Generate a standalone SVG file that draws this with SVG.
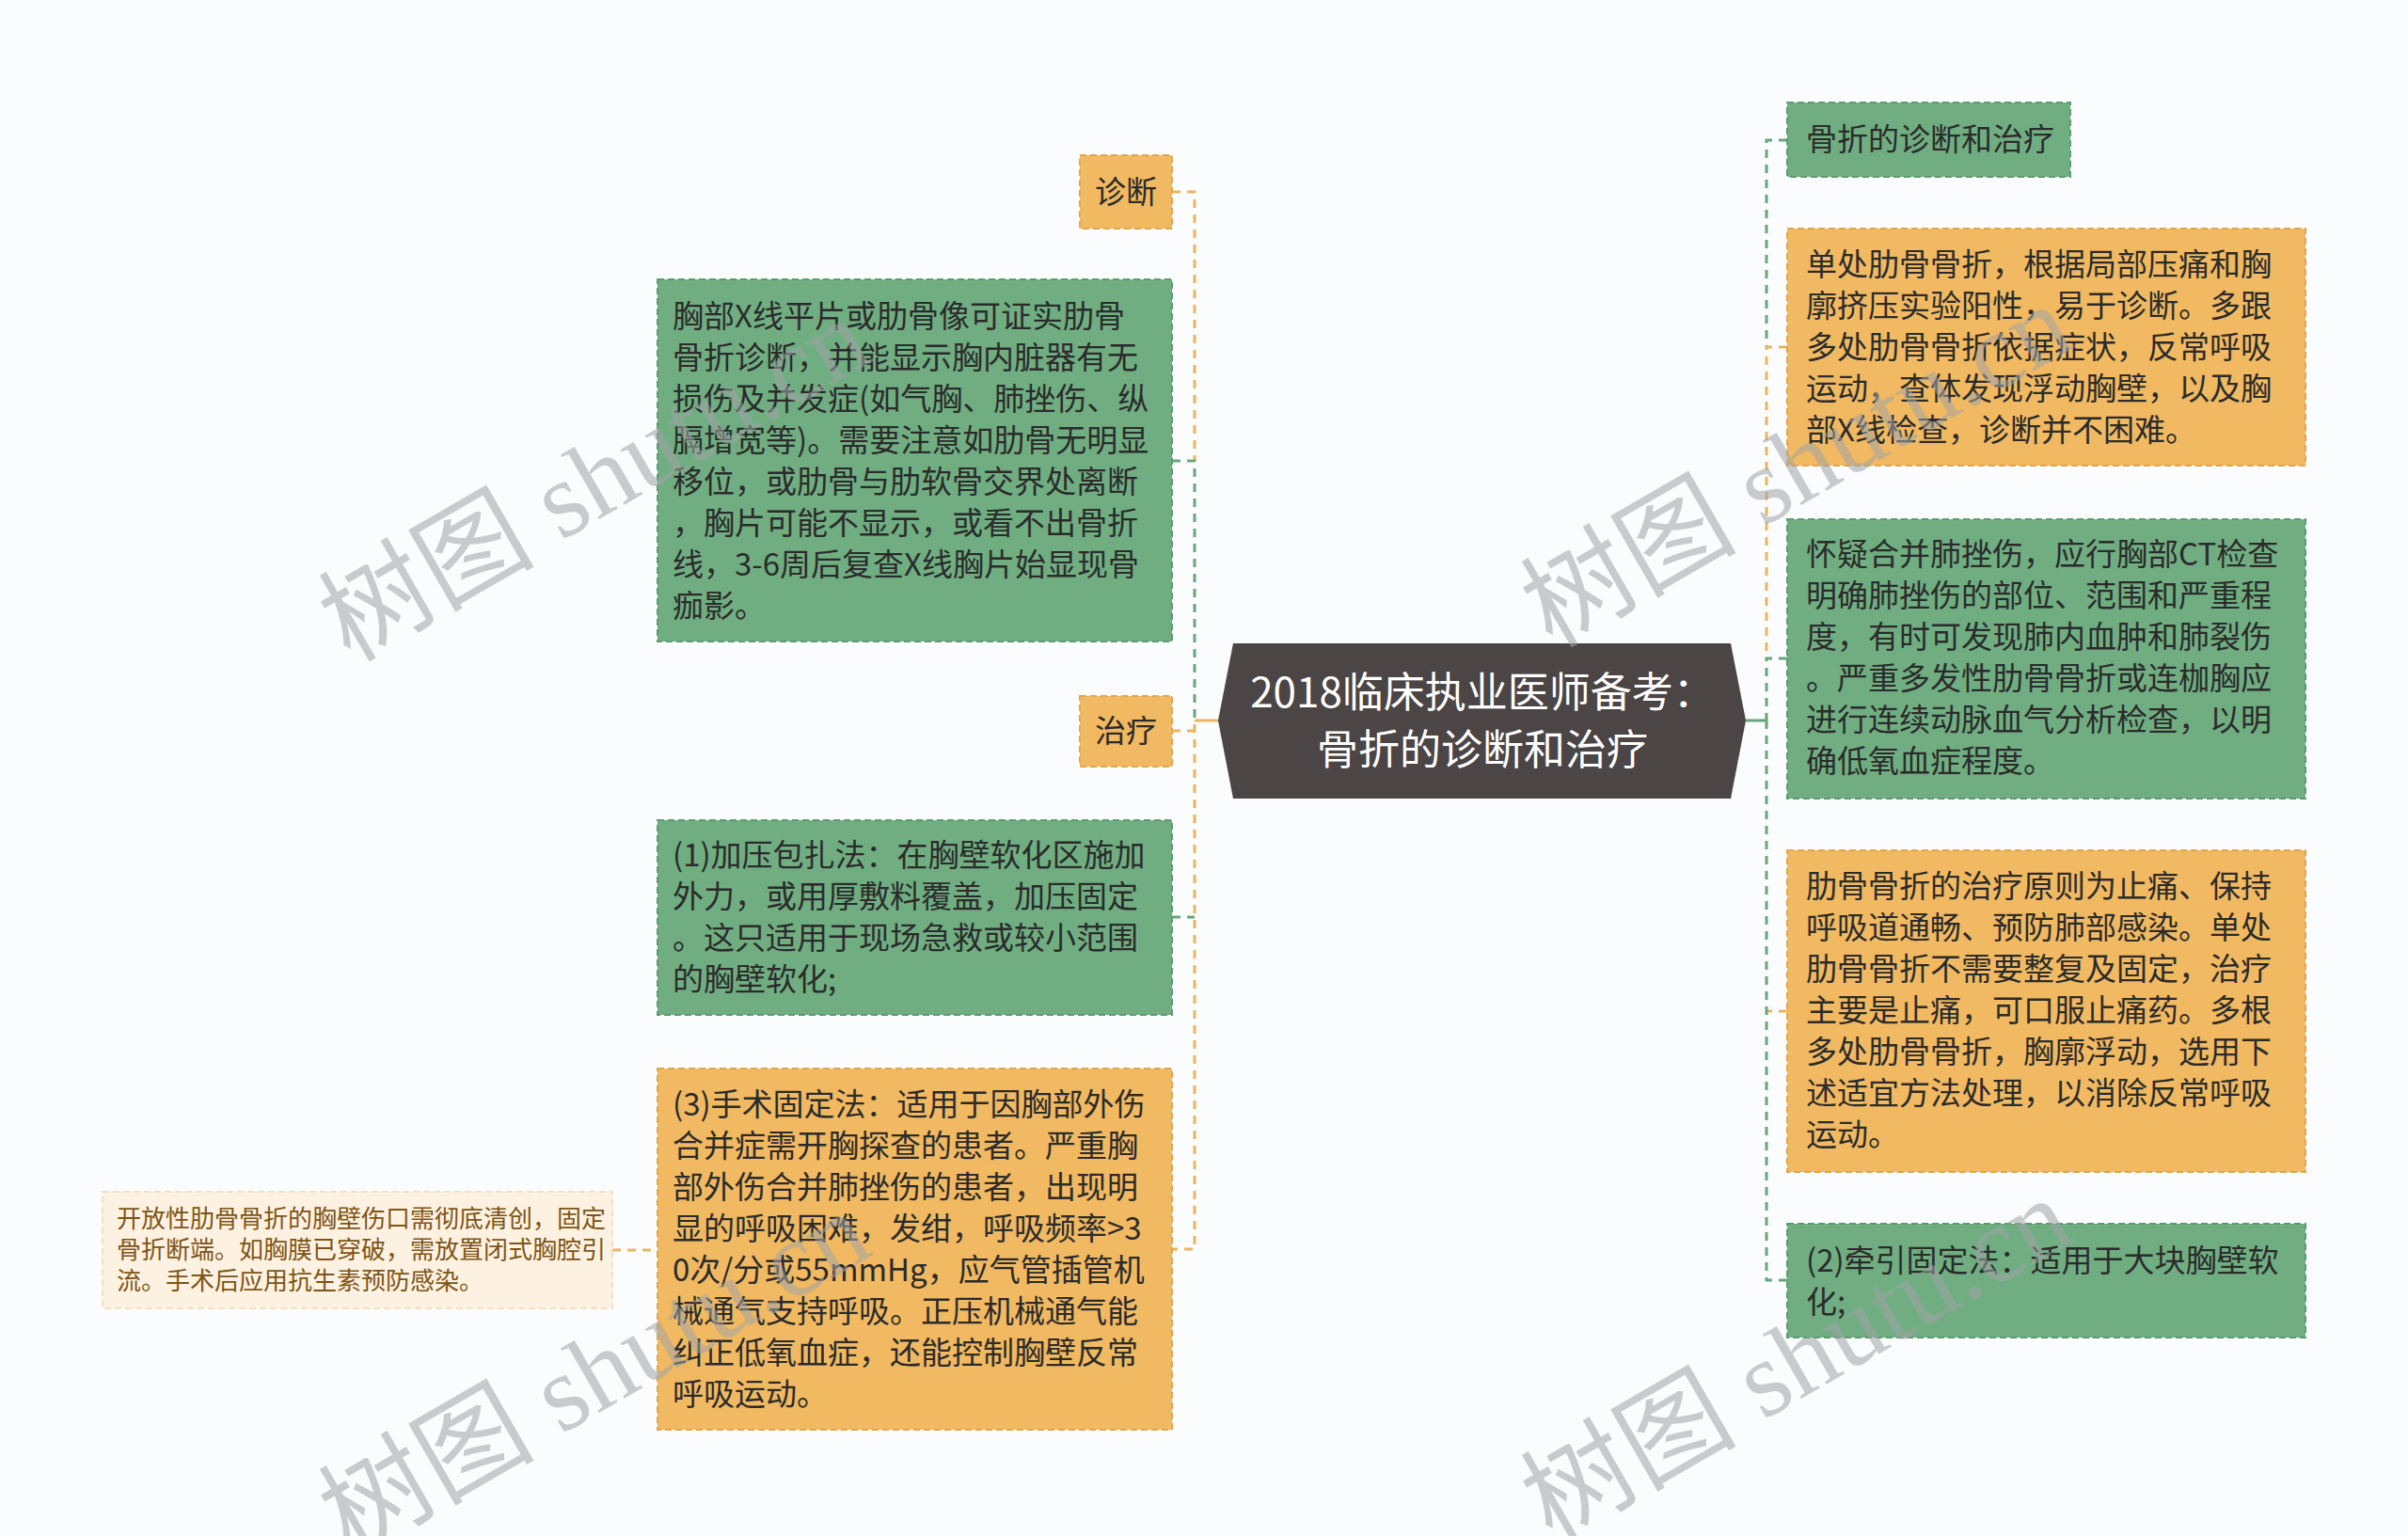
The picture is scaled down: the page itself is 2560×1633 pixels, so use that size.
<svg xmlns="http://www.w3.org/2000/svg" width="2560" height="1633" viewBox="0 0 2560 1633">
<style>
.g{fill:#70ae82;stroke:#5e9b70;stroke-width:2;stroke-dasharray:7 4}
.o{fill:#f1b961;stroke:#e2a64f;stroke-width:2;stroke-dasharray:7 4}
.p{fill:#fdf1e1;stroke:#f2dfc4;stroke-width:2;stroke-dasharray:7 4}
.t{font-family:"Noto Sans CJK SC","Noto Sans",sans-serif;font-size:33px;fill:#2b2b2b}
.ts{font-family:"Noto Sans CJK SC","Noto Sans",sans-serif;font-size:26px;fill:#7d5516}
.tc{font-family:"Noto Sans CJK SC","Noto Sans",sans-serif;font-size:44px;fill:#ffffff}
.cg{fill:none;stroke:#6aa67c;stroke-width:3;stroke-dasharray:9 7}
.co{fill:none;stroke:#eab560;stroke-width:3;stroke-dasharray:9 7}
.sg{fill:none;stroke:#6aa67c;stroke-width:3}
.so{fill:none;stroke:#eab560;stroke-width:3}
.wm{font-family:"Liberation Serif","Noto Sans CJK SC",serif;font-size:115px;fill:#a0a4a6;opacity:0.55}
</style>
<rect x="0" y="0" width="2560" height="1633" fill="#fafcfd"/>

<g id="connectors">
  <path class="co" d="M1246,204 H1270 V490"/>
  <path class="cg" d="M1246,490 H1270 V766"/>
  <path class="so" d="M1270,766 H1295"/>
  <path class="co" d="M1246,777 H1270"/>
  <path class="cg" d="M1246,975 H1270"/>
  <path class="co" d="M1270,770 V1328 H1246"/>
  <path class="co" d="M651,1329 H699"/>
  <path class="cg" d="M1900,149 H1878 V369"/>
  <path class="co" d="M1900,369 H1878 V700"/>
  <path class="cg" d="M1900,700 H1878 V766"/>
  <path class="sg" d="M1856,766 H1878"/>
  <path class="co" d="M1900,1075 H1878"/>
  <path class="cg" d="M1878,766 V1361 H1900"/>
</g>

<g id="root">
  <polygon points="1295,766 1311,684 1840,684 1856,766 1840,849 1311,849" fill="#4b4546"/>
  <text class="tc" text-anchor="middle"><tspan x="1576" y="752">2018临床执业医师备考：</tspan><tspan x="1576" y="813">骨折的诊断和治疗</tspan></text>
</g>

<g id="n-zhenduan">
  <rect class="o" x="1148" y="165" width="98" height="78"/>
  <text class="t" text-anchor="middle" x="1197" y="216">诊断</text>
</g>

<g id="n-xiongbu">
  <rect class="g" x="699" y="297" width="547" height="385"/>
  <text class="t"><tspan x="715" y="348">胸部X线平片或肋骨像可证实肋骨</tspan><tspan x="715" y="392">骨折诊断，并能显示胸内脏器有无</tspan><tspan x="715" y="436">损伤及并发症(如气胸、肺挫伤、纵</tspan><tspan x="715" y="480">膈增宽等)。需要注意如肋骨无明显</tspan><tspan x="715" y="524">移位，或肋骨与肋软骨交界处离断</tspan><tspan x="715" y="568">，胸片可能不显示，或看不出骨折</tspan><tspan x="715" y="612">线，3-6周后复查X线胸片始显现骨</tspan><tspan x="715" y="656">痂影。</tspan></text>
</g>

<g id="n-zhiliao">
  <rect class="o" x="1148" y="740" width="98" height="75"/>
  <text class="t" text-anchor="middle" x="1197" y="789">治疗</text>
</g>

<g id="n-jiaya">
  <rect class="g" x="699" y="872" width="547" height="207"/>
  <text class="t"><tspan x="715" y="921">(1)加压包扎法：在胸壁软化区施加</tspan><tspan x="715" y="965">外力，或用厚敷料覆盖，加压固定</tspan><tspan x="715" y="1009">。这只适用于现场急救或较小范围</tspan><tspan x="715" y="1053">的胸壁软化;</tspan></text>
</g>

<g id="n-shoushu">
  <rect class="o" x="699" y="1136" width="547" height="384"/>
  <text class="t"><tspan x="715" y="1186">(3)手术固定法：适用于因胸部外伤</tspan><tspan x="715" y="1230">合并症需开胸探查的患者。严重胸</tspan><tspan x="715" y="1274">部外伤合并肺挫伤的患者，出现明</tspan><tspan x="715" y="1318">显的呼吸困难，发绀，呼吸频率&gt;3</tspan><tspan x="715" y="1362">0次/分或55mmHg，应气管插管机</tspan><tspan x="715" y="1406">械通气支持呼吸。正压机械通气能</tspan><tspan x="715" y="1450">纠正低氧血症，还能控制胸壁反常</tspan><tspan x="715" y="1494">呼吸运动。</tspan></text>
</g>

<g id="n-kaifang">
  <rect class="p" x="109" y="1267" width="542" height="124"/>
  <text class="ts"><tspan x="124" y="1305">开放性肋骨骨折的胸壁伤口需彻底清创，固定</tspan><tspan x="124" y="1338">骨折断端。如胸膜已穿破，需放置闭式胸腔引</tspan><tspan x="124" y="1371">流。手术后应用抗生素预防感染。</tspan></text>
</g>

<g id="n-guzhe">
  <rect class="g" x="1900" y="109" width="301" height="79"/>
  <text class="t" x="1920" y="160">骨折的诊断和治疗</text>
</g>

<g id="n-danchu">
  <rect class="o" x="1900" y="243" width="551" height="252"/>
  <text class="t"><tspan x="1920" y="293">单处肋骨骨折，根据局部压痛和胸</tspan><tspan x="1920" y="337">廓挤压实验阳性，易于诊断。多跟</tspan><tspan x="1920" y="381">多处肋骨骨折依据症状，反常呼吸</tspan><tspan x="1920" y="425">运动，查体发现浮动胸壁，以及胸</tspan><tspan x="1920" y="469">部X线检查，诊断并不困难。</tspan></text>
</g>

<g id="n-huaiyi">
  <rect class="g" x="1900" y="552" width="551" height="297"/>
  <text class="t"><tspan x="1920" y="601">怀疑合并肺挫伤，应行胸部CT检查</tspan><tspan x="1920" y="645">明确肺挫伤的部位、范围和严重程</tspan><tspan x="1920" y="689">度，有时可发现肺内血肿和肺裂伤</tspan><tspan x="1920" y="733">。严重多发性肋骨骨折或连枷胸应</tspan><tspan x="1920" y="777">进行连续动脉血气分析检查，以明</tspan><tspan x="1920" y="821">确低氧血症程度。</tspan></text>
</g>

<g id="n-yuanze">
  <rect class="o" x="1900" y="904" width="551" height="342"/>
  <text class="t"><tspan x="1920" y="954">肋骨骨折的治疗原则为止痛、保持</tspan><tspan x="1920" y="998">呼吸道通畅、预防肺部感染。单处</tspan><tspan x="1920" y="1042">肋骨骨折不需要整复及固定，治疗</tspan><tspan x="1920" y="1086">主要是止痛，可口服止痛药。多根</tspan><tspan x="1920" y="1130">多处肋骨骨折，胸廓浮动，选用下</tspan><tspan x="1920" y="1174">述适宜方法处理，以消除反常呼吸</tspan><tspan x="1920" y="1218">运动。</tspan></text>
</g>

<g id="n-qianyin">
  <rect class="g" x="1900" y="1301" width="551" height="121"/>
  <text class="t"><tspan x="1920" y="1352">(2)牵引固定法：适用于大块胸壁软</tspan><tspan x="1920" y="1396">化;</tspan></text>
</g>

<g id="watermarks">
  <text class="wm" transform="translate(372,705) rotate(-30)">树图 shutu.cn</text>
  <text class="wm" transform="translate(1650,690) rotate(-30)">树图 shutu.cn</text>
  <text class="wm" transform="translate(372,1655) rotate(-30)">树图 shutu.cn</text>
  <text class="wm" transform="translate(1650,1640) rotate(-30)">树图 shutu.cn</text>
</g>
</svg>
